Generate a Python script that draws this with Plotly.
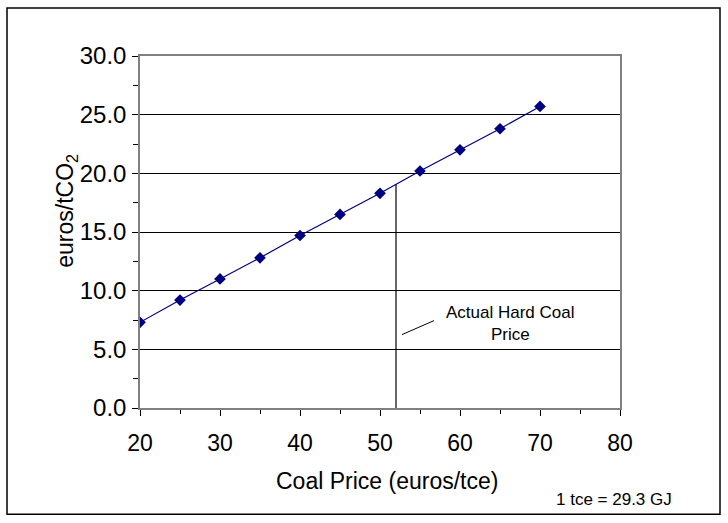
import plotly.graph_objects as go

coal_price = [20, 25, 30, 35, 40, 45, 50, 55, 60, 65, 70]
co2_price = [7.3, 9.2, 11.0, 12.8, 14.7, 16.5, 18.3, 20.2, 22.0, 23.8, 25.7]

actual_price = 52
actual_co2 = 19.1

x_ticks = [20, 30, 40, 50, 60, 70, 80]
y_ticks = [0, 5, 10, 15, 20, 25, 30]

# plot area in pixels: x 140..620, y 56..408.5
L, R, T, B = 140, 620, 56, 408.5
W, H = R - L, B - T


def px(x):
    return (x - L) / W


def py(y):
    return (B - y) / H


fig = go.Figure()

# actual hard coal price marker line
fig.add_trace(go.Scatter(
    x=[actual_price, actual_price], y=[0, actual_co2],
    mode='lines', line=dict(color='black', width=1.2),
    hoverinfo='skip', showlegend=False
))

fig.add_trace(go.Scatter(
    x=coal_price, y=co2_price,
    mode='lines+markers',
    line=dict(color='#000080', width=1.2),
    marker=dict(symbol='diamond', size=9, color='#000080'),
    showlegend=False
))

fig.update_layout(
    width=728, height=523,
    margin=dict(l=L, r=728 - R, t=T, b=523 - B),
    paper_bgcolor='white',
    plot_bgcolor='white',
    font=dict(family='Arial, Liberation Sans, sans-serif', color='black'),
    xaxis=dict(
        range=[20, 80], tickvals=x_ticks, ticktext=[str(v) for v in x_ticks],
        ticks='outside', ticklen=6, tickcolor='black',
        minor=dict(dtick=5, ticks='outside', ticklen=4, tickcolor='black'),
        showgrid=False, zeroline=False,
        showline=True, linecolor='#808080', linewidth=1.5, mirror=True,
        tickfont=dict(size=23), ticklabelstandoff=8,
    ),
    yaxis=dict(
        range=[0, 30], tickvals=y_ticks, ticktext=['%.1f' % v for v in y_ticks],
        ticks='outside', ticklen=6, tickcolor='black',
        minor=dict(dtick=2.5, ticks='outside', ticklen=5, tickcolor='black', showgrid=False),
        showgrid=True, gridcolor='black', gridwidth=1,
        zeroline=False,
        showline=True, linecolor='#808080', linewidth=1.5, mirror=True,
        tickfont=dict(size=24), ticklabelstandoff=1,
    ),
)

# axis titles
fig.add_annotation(
    x=px(67), y=py(211), xref='paper', yref='paper',
    text='euros/tCO<sub>2</sub>', textangle=-90, showarrow=False,
    font=dict(size=23), xanchor='center', yanchor='middle'
)
fig.add_annotation(
    x=px(387), y=py(482), xref='paper', yref='paper',
    text='Coal Price (euros/tce)', showarrow=False,
    font=dict(size=23), xanchor='center', yanchor='middle'
)

fig.add_annotation(
    x=px(510), y=py(324), xref='paper', yref='paper',
    text='Actual Hard Coal<br>Price', showarrow=False,
    font=dict(size=17), align='center', xanchor='center', yanchor='middle'
)
# leader line from label to vertical line
fig.add_shape(type='line', xref='paper', yref='paper',
              x0=px(402), y0=py(335), x1=px(434), y1=py(321),
              line=dict(color='black', width=1))

fig.add_annotation(
    x=px(614), y=py(500), xref='paper', yref='paper',
    text='1 tce = 29.3 GJ', showarrow=False,
    font=dict(size=17), xanchor='center', yanchor='middle'
)

# outer frame
fig.add_shape(type='rect', xref='paper', yref='paper',
              x0=px(7), x1=px(720), y0=py(515), y1=py(8),
              line=dict(color='black', width=1.5), layer='below')

fig.write_html('out.html', config={'displayModeBar': False},
               post_script="document.body.style.margin='0';")
